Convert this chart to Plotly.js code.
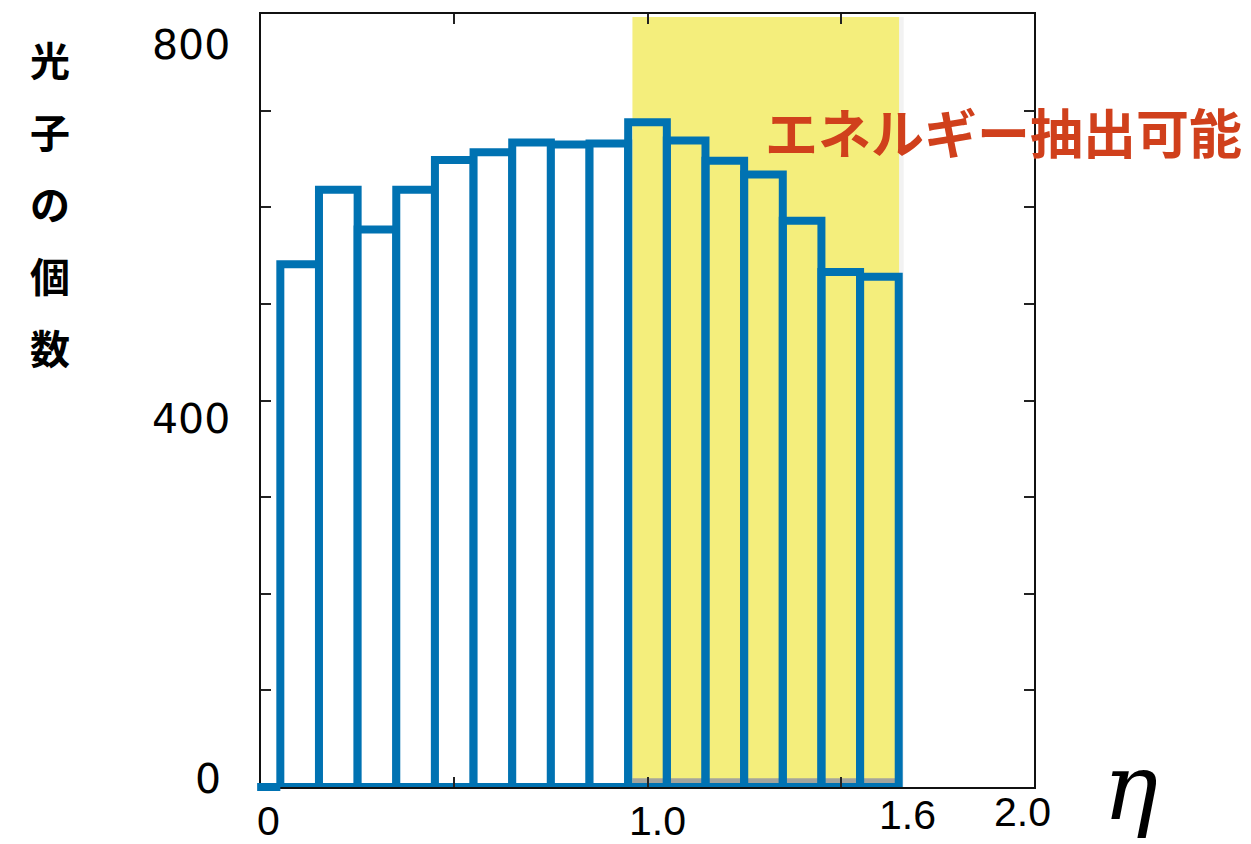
<!DOCTYPE html>
<html>
<head>
<meta charset="utf-8">
<script src="https://cdn.plot.ly/plotly-3.0.1.min.js"></script>
<style>html,body{margin:0;padding:0;background:#fff;}#chart{width:1251px;height:844px;}</style>
</head>
<body>
<div id="chart"></div>
<script>
// ---- data ----
const binCenters = [0.1,0.2,0.3,0.4,0.5,0.6,0.7,0.8,0.9,1.0,1.1,1.2,1.3,1.4,1.5,1.6];
const photonCounts = [541,618,577,618,649,657,667,665,666,688,669,648,634,586,533,528];
const binWidth = 0.1;
const extractRegion = [0.961, 1.651];   // η range where energy extraction is possible
const regionTop = 797;
const xTickLabels = ['0','1.0','1.6','2.0'];
const xTickLabelVals = [0, 1.0, 1.6, 2.0];
const yTickLabels = ['800','400','0'];
const yTickLabelVals = [800, 400, 0];
const yTitleText = '光子の個数';
const regionText = 'エネルギー抽出可能';
const xTitleText = 'η';

// ---- styling ----
const blue = '#0072B2';
const xRange = [0, 2];
const yRange = [0, 800];
const fills = binCenters.map(c => c > extractRegion[0] ? 'rgba(0,0,0,0)' : '#ffffff');

const trace = {
  type: 'bar',
  x: binCenters,
  y: photonCounts,
  width: binCenters.map(() => binWidth),
  marker: {color: fills, line: {color: blue, width: 8}},
  cliponaxis: false,
  hoverinfo: 'skip'
};

const toPaperX = v => (v - xRange[0]) / (xRange[1] - xRange[0]);
const firstEdge = binCenters[0] - binWidth / 2;

const shapes = [
  {type:'rect', layer:'below', xref:'x', yref:'y', x0:extractRegion[0], x1:extractRegion[1], y0:0, y1:regionTop,
   fillcolor:'#F4EE7C', line:{width:0}},
  {type:'rect', layer:'below', xref:'x', yref:'y', x0:extractRegion[1], x1:extractRegion[1]+0.012, y0:0, y1:regionTop,
   fillcolor:'rgba(0,0,0,0.05)', line:{width:0}},
  {type:'rect', layer:'below', xref:'x', yref:'y', x0:extractRegion[0], x1:extractRegion[1], y0:0, y1:9,
   fillcolor:'#a4a49c', line:{width:0}},
  {type:'line', layer:'above', xref:'paper', yref:'paper', x0:toPaperX(xRange[0]) - 0.005, x1:toPaperX(firstEdge), y0:0, y1:0,
   line:{color:blue, width:8}}
];

const annotations = [];
// x tick labels
const xLabShift = [[7,-34],[10,-34],[28,-28],[-12,-25]];
xTickLabels.forEach((t,i) => annotations.push({
  text:t, xref:'x', yref:'paper', x:xTickLabelVals[i], y:0, xanchor:'center', yanchor:'middle',
  xshift:xLabShift[i][0], yshift:xLabShift[i][1], showarrow:false,
  font:{family:'Liberation Sans, Arial, sans-serif', size:41, color:'#000'}
}));
// y tick labels
const yLabShift = [[-29,-31],[-29,-18],[-38,8]];
yTickLabels.forEach((t,i) => annotations.push({
  text:t, xref:'paper', yref:'y', x:0, y:yTickLabelVals[i], xanchor:'right', yanchor:'middle',
  xshift:yLabShift[i][0], yshift:yLabShift[i][1], showarrow:false,
  font:{family:'DejaVu Sans, sans-serif', size:41, color:'#000'}
}));
// vertical y title
Array.from(yTitleText).forEach((ch,i) => annotations.push({
  text:ch, xref:'paper', yref:'paper', x:0, y:1, xanchor:'center', yanchor:'middle',
  xshift:-211, yshift:-(45 + i*72), showarrow:false,
  font:{family:'Noto Sans CJK JP, sans-serif', size:40, color:'#000', weight:700}
}));
// region label
annotations.push({
  text:regionText, xref:'x', yref:'y', x:1.30, y:679, xanchor:'left', yanchor:'middle', showarrow:false,
  font:{family:'Noto Sans CJK JP, sans-serif', size:53, color:'#D0401C', weight:700}
});
// eta axis label
annotations.push({
  text:'<i>'+xTitleText+'</i>', xref:'paper', yref:'paper', x:1, y:0, xanchor:'center', yanchor:'bottom',
  xshift:96, yshift:-56, showarrow:false,
  font:{family:'DejaVu Serif, serif', size:92, color:'#000'}
});

const axisCommon = {
  showline:true, mirror:'ticks', linecolor:'#111', linewidth:2,
  ticks:'inside', ticklen:10, tickwidth:2, tickcolor:'#222',
  showgrid:false, zeroline:false, showticklabels:false, fixedrange:true
};

const layout = {
  width:1251, height:844,
  margin:{l:261, r:217, t:14, b:57, pad:0},
  paper_bgcolor:'#fff', plot_bgcolor:'#fff',
  showlegend:false, bargap:0,
  xaxis:Object.assign({}, axisCommon, {range:xRange, tickmode:'array', tickvals:[0.5,1.0,1.5]}),
  yaxis:Object.assign({}, axisCommon, {range:yRange, tickmode:'array', tickvals:[100,200,300,400,500,600,700]}),
  shapes:shapes,
  annotations:annotations
};

Plotly.newPlot('chart', [trace], layout, {displayModeBar:false, staticPlot:true});
</script>
</body>
</html>
